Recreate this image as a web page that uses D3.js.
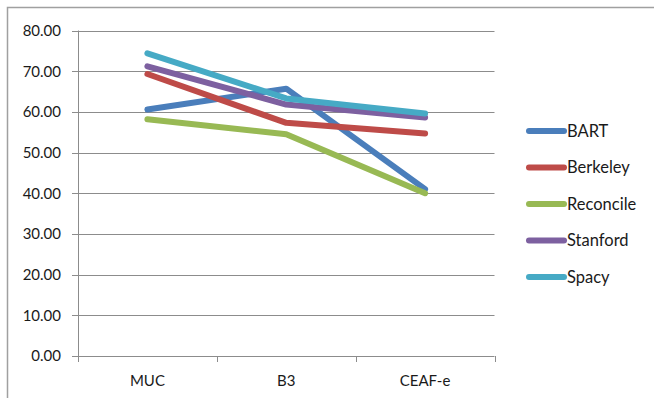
<!DOCTYPE html>
<html><head><meta charset="utf-8">
<script src="https://cdn.jsdelivr.net/npm/d3@7"></script>
<style>body{margin:0;background:#fff}svg{display:block}text{font-family:Lato,"Open Sans",sans-serif;fill:#1a1a1a}</style>
</head><body>
<svg id="c" width="654" height="398"></svg>
<script>
const categories = ["MUC", "B3", "CEAF-e"];
const seriesNames = ["BART", "Berkeley", "Reconcile", "Stanford", "Spacy"];
const BART = [60.6, 65.7, 41.0];
const Berkeley = [69.3, 57.3, 54.7];
const Reconcile = [58.2, 54.5, 40.0];
const Stanford = [71.2, 61.8, 58.6];
const Spacy = [74.4, 63.3, 59.6];
const yTicks = [0, 10, 20, 30, 40, 50, 60, 70, 80];
const colors = ["#4a7ebb", "#be4b48", "#98b954", "#7d60a0", "#46aac5"];
const seriesValues = [BART, Berkeley, Reconcile, Stanford, Spacy];

(function () {
const svg = d3.select("#c");
// outer frame
svg.append("path").attr("d", "M7.5,398 V7.5 H654").attr("fill", "none").attr("stroke", "#a0a0a0").attr("stroke-width", 1.5);

const pL = 78, pR = 494.5, pT = 30.5, pB = 356;
const x = d3.scaleBand().domain(categories).range([pL, pR]);
const y = d3.scaleLinear().domain([0, 80]).range([pB, pT]);

// gridlines
svg.append("g").selectAll("line").data(yTicks).join("line")
  .attr("x1", pL - 6).attr("x2", pR)
  .attr("y1", d => Math.round(y(d)) + 0.5).attr("y2", d => Math.round(y(d)) + 0.5)
  .attr("stroke", "#8c8c8c").attr("stroke-width", 1);

// y axis line
svg.append("line").attr("x1", pL + 0.5).attr("x2", pL + 0.5).attr("y1", pT).attr("y2", pB)
  .attr("stroke", "#8c8c8c");
// x ticks
const xb = [pL, ...categories.map(c => x(c) + x.bandwidth())];
svg.append("g").selectAll("line").data(xb).join("line")
  .attr("x1", d => Math.round(d) + 0.5).attr("x2", d => Math.round(d) + 0.5)
  .attr("y1", pB).attr("y2", pB + 6).attr("stroke", "#8c8c8c");

// y labels
svg.append("g").selectAll("text").data(yTicks).join("text")
  .attr("x", 61).attr("y", d => y(d)).attr("dy", "0.36em").attr("text-anchor", "end")
  .attr("font-size", 15).text(d => d.toFixed(2));
// x labels
svg.append("g").selectAll("text").data(categories).join("text")
  .attr("x", d => x(d) + x.bandwidth() / 2).attr("y", 386).attr("text-anchor", "middle")
  .attr("font-size", 15).text(d => d);

// lines
const line = d3.line().x((d, i) => x(categories[i]) + x.bandwidth() / 2).y(d => y(d));
svg.append("g").selectAll("path").data(seriesValues).join("path")
  .attr("d", d => line(d)).attr("fill", "none")
  .attr("stroke", (d, i) => colors[i]).attr("stroke-width", 6)
  .attr("stroke-linecap", "round").attr("stroke-linejoin", "round");

// legend
const lg = svg.append("g").selectAll("g").data(seriesNames).join("g")
  .attr("transform", (d, i) => `translate(0,${131 + i * 36.5})`);
lg.append("line").attr("x1", 529).attr("x2", 564).attr("y1", 0).attr("y2", 0)
  .attr("stroke", (d, i) => colors[i]).attr("stroke-width", 6).attr("stroke-linecap", "round");
lg.append("text").attr("x", 567).attr("y", 0).attr("dy", "0.36em").attr("font-size", 16.5).text(d => d);
})();
</script>
</body></html>
